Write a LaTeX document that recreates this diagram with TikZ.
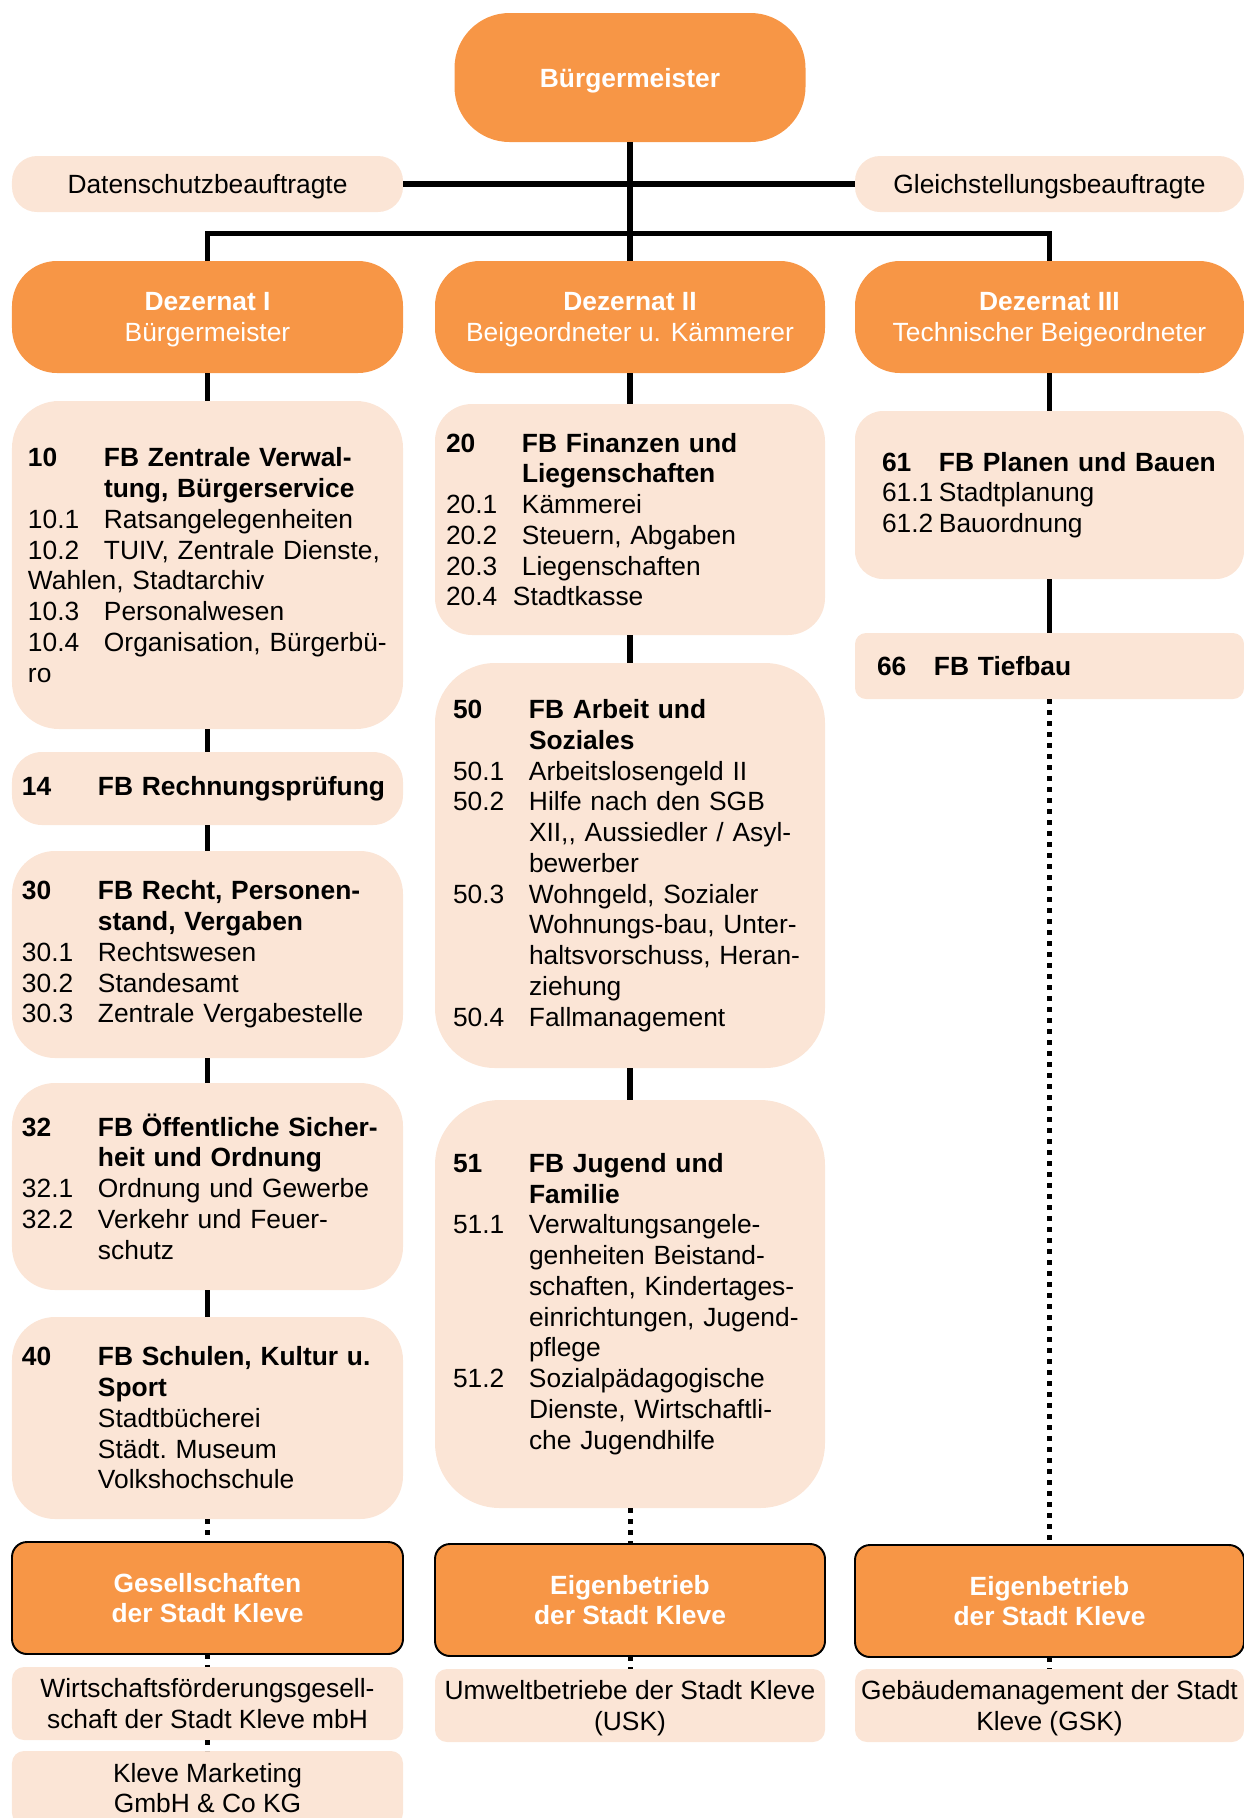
\documentclass[tikz,border=0pt]{standalone}
\usepackage{fontspec}
\setmainfont{Liberation Sans}
\usetikzlibrary{positioning}
\definecolor{orng}{HTML}{F79646}
\definecolor{peach}{HTML}{FBE5D6}
\newcommand{\nr}[2][1.52cm]{\makebox[#1][l]{#2}}

\begin{document}
\begin{tikzpicture}[font=\fontsize{15}{17.5}\selectfont,
    head/.style={fill=orng, text=white, align=center, outer sep=0pt, inner sep=0pt, text depth=0pt},
    fb/.style={fill=peach, align=left, outer sep=0pt, inner ysep=0pt},
    sub/.style={fill=peach, align=center, outer sep=0pt, inner ysep=0pt, inner xsep=0.05cm, text depth=0pt},
    eb/.style={head, draw=black, line width=1.1pt, rounded corners=0.3cm, minimum height=2.24cm,
        font=\fontsize{15}{17.5}\selectfont\bfseries},
    link/.style={line width=0.11cm},
    dotlink/.style={line width=0.1cm, dash pattern=on 0.1cm off 0.12cm}]
    \useasboundingbox (0,0) rectangle (24.88,-36.36);

    % Spitze
    \node[head, minimum width=7.02cm, minimum height=2.58cm, rounded corners=1.1cm] (bm) at (12.6,-1.55) {\textbf{Bürgermeister}};
    \node[sub, minimum width=7.82cm, minimum height=1.12cm, rounded corners=0.5cm] (ds) at (4.15,-3.68) {Datenschutzbeauftragte};
    \node[sub, minimum width=7.78cm, minimum height=1.12cm, rounded corners=0.5cm] (gs) at (20.99,-3.68) {Gleichstellungsbeauftragte};
    \coordinate (bar) at (12.6,-4.67);

    % Dezernate
    \node[head, minimum width=7.82cm, minimum height=2.24cm, rounded corners=0.9cm] (dz1) at (4.15,-6.34) {\textbf{Dezernat I}\\Bürgermeister};
    \node[head, minimum width=7.8cm, minimum height=2.24cm, rounded corners=0.9cm] (dz2) at (12.6,-6.34) {\textbf{Dezernat II}\\Beigeordneter u. Kämmerer};
    \node[head, minimum width=7.78cm, minimum height=2.24cm, rounded corners=0.9cm] (dz3) at (20.99,-6.34) {\textbf{Dezernat III}\\Technischer Beigeordneter};

    % Dezernat I
    \node[fb, minimum width=7.82cm, minimum height=6.56cm, inner xsep=0.32cm, text width=7.18cm, rounded corners=0.94cm] (fb10) [below=0.56cm of dz1] {%
        \textbf{\nr{10}FB Zentrale Verwal-}\\
        \textbf{\nr{}tung, Bürgerservice}\\
        \nr{10.1}Ratsangelegenheiten\\
        \nr{10.2}TUIV, Zentrale Dienste,\\
        Wahlen, Stadtarchiv\\
        \nr{10.3}Personalwesen\\
        \nr{10.4}Organisation, Bürgerbü-\\
        ro};
    \node[fb, minimum width=7.82cm, minimum height=1.46cm, inner xsep=0.2cm, text width=7.42cm, rounded corners=0.6cm] (fb14) [below=0.46cm of fb10] {\textbf{\nr{14}FB Rechnungsprüfung}};
    \node[fb, minimum width=7.82cm, minimum height=4.14cm, inner xsep=0.2cm, text width=7.42cm, rounded corners=0.86cm] (fb30) [below=0.52cm of fb14] {%
        \textbf{\nr{30}FB Recht, Personen-}\\
        \textbf{\nr{}stand, Vergaben}\\
        \nr{30.1}Rechtswesen\\
        \nr{30.2}Standesamt\\
        \nr{30.3}Zentrale Vergabestelle};
    \node[fb, minimum width=7.82cm, minimum height=4.14cm, inner xsep=0.2cm, text width=7.42cm, rounded corners=0.86cm] (fb32) [below=0.5cm of fb30] {%
        \textbf{\nr{32}FB Öffentliche Sicher-}\\
        \textbf{\nr{}heit und Ordnung}\\
        \nr{32.1}Ordnung und Gewerbe\\
        \nr{32.2}Verkehr und Feuer-\\
        \nr{}schutz};
    \node[fb, minimum width=7.82cm, minimum height=4.04cm, inner xsep=0.2cm, text width=7.42cm, rounded corners=0.86cm] (fb40) [below=0.54cm of fb32] {%
        \textbf{\nr{40}FB Schulen, Kultur u.}\\
        \textbf{\nr{}Sport}\\
        \nr{}Stadtbücherei\\
        \nr{}Städt.\ Museum\\
        \nr{}Volkshochschule};
    \node[eb, minimum width=7.82cm] (ges) [below=0.46cm of fb40] {Gesellschaften\\der Stadt Kleve};
    \node[sub, minimum width=7.82cm, minimum height=1.46cm, rounded corners=0.24cm] (wfg) [below=0.26cm of ges] {Wirtschaftsförderungsgesell-\\schaft der Stadt Kleve mbH};
    \node[sub, minimum width=7.82cm, minimum height=1.48cm, rounded corners=0.24cm] (kma) [below=0.22cm of wfg] {Kleve Marketing\\GmbH \& Co KG};

    % Dezernat II
    \node[fb, minimum width=7.8cm, minimum height=4.62cm, inner xsep=0.22cm, text width=7.36cm, rounded corners=0.74cm] (fb20) [below=0.62cm of dz2] {%
        \textbf{\nr{20}FB Finanzen und}\\
        \textbf{\nr{}Liegenschaften}\\
        \nr{20.1}Kämmerei\\
        \nr{20.2}Steuern, Abgaben\\
        \nr{20.3}Liegenschaften\\
        \nr[1.34cm]{20.4}Stadtkasse};
    \node[fb, minimum width=7.8cm, minimum height=8.1cm, inner xsep=0.36cm, text width=7.08cm, rounded corners=1.2cm] (fb50) [below=0.56cm of fb20] {%
        \textbf{\nr{50}FB Arbeit und}\\
        \textbf{\nr{}Soziales}\\
        \nr{50.1}Arbeitslosengeld II\\
        \nr{50.2}Hilfe nach den SGB\\
        \nr{}XII,{}, Aussiedler / Asyl-\\
        \nr{}bewerber\\
        \nr{50.3}Wohngeld, Sozialer\\
        \nr{}Wohnungs-bau, Unter-\\
        \nr{}haltsvorschuss, Heran-\\
        \nr{}ziehung\\
        \nr{50.4}Fallmanagement};
    \node[fb, minimum width=7.8cm, minimum height=8.16cm, inner xsep=0.36cm, text width=7.08cm, rounded corners=1.3cm] (fb51) [below=0.64cm of fb50] {%
        \textbf{\nr{51}FB Jugend und}\\
        \textbf{\nr{}Familie}\\
        \nr{51.1}Verwaltungsangele-\\
        \nr{}genheiten Beistand-\\
        \nr{}schaften, Kindertages-\\
        \nr{}einrichtungen, Jugend-\\
        \nr{}pflege\\
        \nr{51.2}Sozialpädagogische\\
        \nr{}Dienste, Wirtschaftli-\\
        \nr{}che Jugendhilfe};
    \node[eb, minimum width=7.8cm] (eb2) [below=0.72cm of fb51] {Eigenbetrieb\\der Stadt Kleve};
    \node[sub, minimum width=7.8cm, minimum height=1.46cm, rounded corners=0.24cm] (usk) [below=0.26cm of eb2] {Umweltbetriebe der Stadt Kleve\\(USK)};

    % Dezernat III
    \node[fb, minimum width=7.78cm, minimum height=3.36cm, inner xsep=0.54cm, text width=6.7cm, rounded corners=0.56cm] (fb61) [below=0.76cm of dz3] {%
        \textbf{\nr[1.14cm]{61}FB Planen und Bauen}\\
        \nr[1.14cm]{61.1}Stadtplanung\\
        \nr[1.14cm]{61.2}Bauordnung};
    \node[fb, minimum width=7.78cm, minimum height=1.32cm, inner xsep=0.44cm, text width=6.9cm, rounded corners=0.22cm] (fb66) [below=1.08cm of fb61] {\textbf{\nr[1.14cm]{66}FB Tiefbau}};
    \node[eb, minimum width=7.78cm] (eb3) [below=16.92cm of fb66] {Eigenbetrieb\\der Stadt Kleve};
    \node[sub, minimum width=7.78cm, minimum height=1.46cm, rounded corners=0.24cm] (gsk) [below=0.24cm of eb3] {Gebäudemanagement der Stadt\\Kleve (GSK)};

    % Verbindungen
    \draw[link] (bm) -- (dz2);
    \draw[link] (dz1.north) |- (bar) -| (dz3.north);
    \draw[link, line width=0.13cm] (ds) -- (gs);
    \path[link] (dz1) edge (fb10) (fb10) edge (fb14) (fb14) edge (fb30) (fb30) edge (fb32) (fb32) edge (fb40);
    \path[link] (dz2) edge (fb20) (fb20) edge (fb50) (fb50) edge (fb51);
    \path[link] (dz3) edge (fb61) (fb61) edge (fb66);
    \path[dotlink] (fb40) edge (ges) (ges) edge (wfg) (wfg) edge (kma);
    \path[dotlink] (fb51) edge (eb2) (eb2) edge (usk);
    \path[dotlink] (fb66) edge (eb3) (eb3) edge (gsk);
\end{tikzpicture}
\end{document}
